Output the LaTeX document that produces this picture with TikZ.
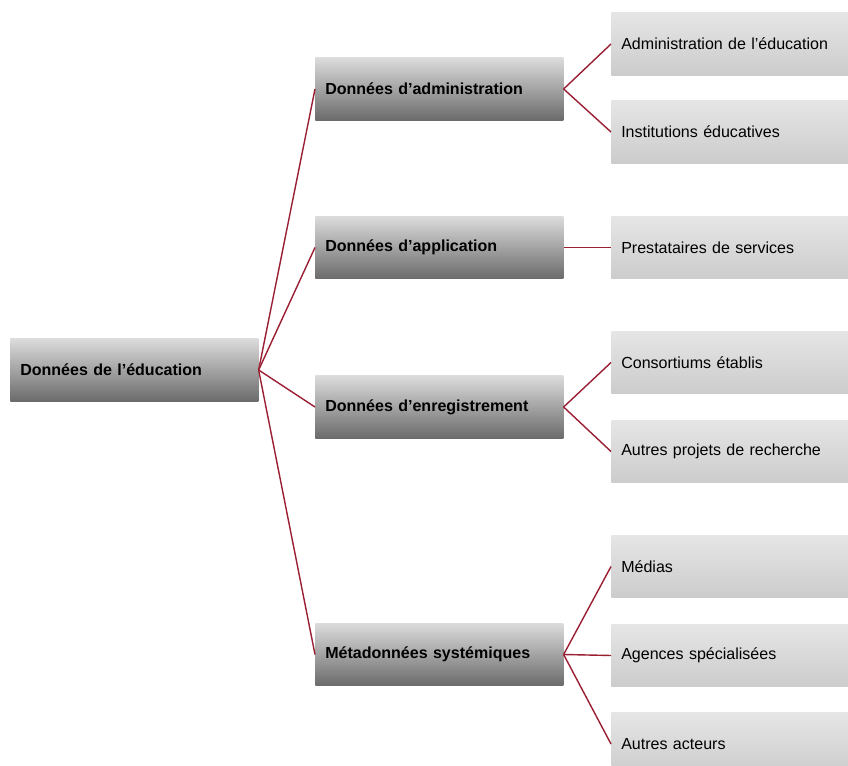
\documentclass[tikz,border=0pt]{standalone}
\usepackage{fontspec}
\setmainfont{Liberation Sans}
\definecolor{linkred}{HTML}{9B1F32}
\tikzset{
    databox/.style={rectangle, anchor=west, minimum width=6.2cm, minimum height=1.55cm,
        text width=5.7cm, inner xsep=0.25cm, align=left,
        top color=black!14, bottom color=black!58, font=\fontsize{11.4}{13}\selectfont\bfseries},
    leafbox/.style={rectangle, anchor=west, minimum width=6.2cm, minimum height=1.55cm,
        text width=5.7cm, inner xsep=0.25cm, align=left,
        top color=black!10, bottom color=black!20, font=\fontsize{11.4}{13}\selectfont},
    link/.style={draw=linkred, line width=1pt},
}
\begin{document}
\begin{tikzpicture}[x=0.025cm, y=-0.025cm]
        \useasboundingbox (0,0) rectangle (848,766);

        \node [databox] (root) at (10,370) {Données de l’éducation};

        \foreach \mid / \y / \txt in {
            admin/89/Données d’administration,
            appli/247.5/Données d’application,
            enreg/407/Données d’enregistrement,
            meta/654.5/Métadonnées systémiques
        }
        {
            \node [databox] (\mid) at (315,\y) {\txt};
            \draw [link] (root.east) -- (\mid.west);
        }

        \foreach \leaf / \y / \mid / \txt in {
            adminedu/44/admin/Administration de l’éducation,
            instit/132/admin/Institutions éducatives,
            prest/247.5/appli/Prestataires de services,
            consort/362.5/enreg/Consortiums établis,
            projets/451.5/enreg/Autres projets de recherche,
            medias/566.5/meta/Médias,
            agences/655.5/meta/Agences spécialisées,
            acteurs/744/meta/Autres acteurs
        }
        {
            \node [leafbox] (\leaf) at (611,\y) {\txt};
            \draw [link] (\mid.east) -- (\leaf.west);
        }
\end{tikzpicture}
\end{document}
